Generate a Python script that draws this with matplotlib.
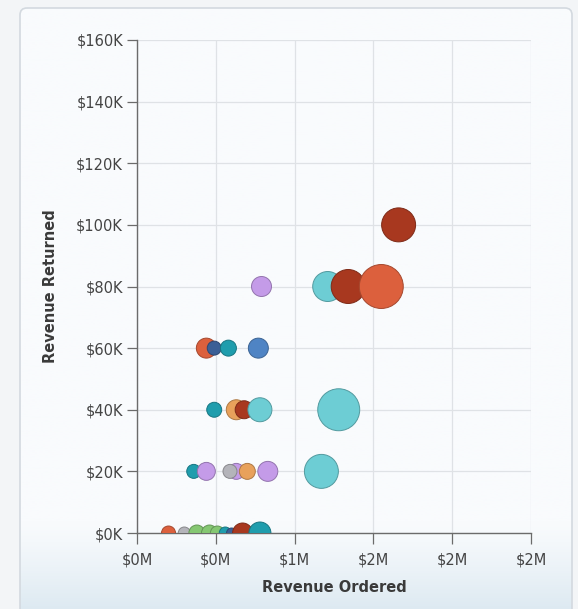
import numpy as np
import matplotlib
import matplotlib.pyplot as plt
from matplotlib.patches import FancyBboxPatch
from matplotlib.ticker import FuncFormatter, MultipleLocator

matplotlib.use("Agg")
plt.rcParams["font.family"] = ["DejaVu Sans"]

# revenue ordered ($), revenue returned ($), bubble size (units), colour group
revenue_ordered = [
    200000, 300000, 380000, 460000, 510000, 560000, 600000, 670000, 780000,
    360000, 440000, 630000, 590000, 700000, 830000, 1170000,
    490000, 630000, 680000, 780000, 1280000,
    440000, 490000, 580000, 770000,
    790000, 1210000, 1340000, 1550000,
    1660000,
]
revenue_returned = [
    0, 0, 0, 0, 0, 0, 0, 0, 0,
    20000, 20000, 20000, 20000, 20000, 20000, 20000,
    40000, 40000, 40000, 40000, 40000,
    60000, 60000, 60000, 60000,
    80000, 80000, 80000, 80000,
    100000,
]
units = [
    49, 36, 64, 64, 49, 36, 25, 100, 121,
    49, 81, 64, 49, 64, 100, 289,
    56, 100, 81, 144, 441,
    100, 49, 64, 100,
    100, 225, 289, 484,
    289,
]
groups = [
    "salmon", "gray", "green", "green", "green", "teal", "navy", "darkred", "teal",
    "teal", "purple", "purple", "gray", "orange", "purple", "cyan",
    "teal", "orange", "darkred", "cyan", "cyan",
    "salmon", "navy", "teal", "blue",
    "purple", "cyan", "darkred", "salmon",
    "darkred",
]
palette = {
    "darkred": "#a8381f",
    "salmon": "#dc603d",
    "cyan": "#6dcdd4",
    "teal": "#1f9dad",
    "purple": "#c49be8",
    "blue": "#4f84c4",
    "navy": "#3b5f96",
    "orange": "#e8a15b",
    "gray": "#b4b4ba",
    "green": "#85c772",
}


def darker(hex_color, f=0.75):
    rgb = np.array(matplotlib.colors.to_rgb(hex_color))
    return tuple(rgb * f)


fig = plt.figure(figsize=(5.78, 6.09), dpi=100)
fig.patch.set_facecolor("#f3f5f7")

# panel background
bg = fig.add_axes([0, 0, 1, 1])
bg.set_xlim(0, 578)
bg.set_ylim(609, 0)
bg.axis("off")
panel = FancyBboxPatch((20, 8), 552, 612, boxstyle="round,pad=0,rounding_size=7",
                       fc="none", ec="#d3d9df", lw=1.2, zorder=3)
bg.add_patch(panel)
t = np.linspace(0, 1, 300)
top = np.array(matplotlib.colors.to_rgb("#f9fbfd"))
bottom = np.array(matplotlib.colors.to_rgb("#d9e7f0"))
w = np.clip((t - 0.84) / 0.16, 0, 1) ** 1.2
grad = top[None, :] * (1 - w[:, None]) + bottom[None, :] * w[:, None]
im = bg.imshow(grad[:, None, :], extent=(20, 572, 620, 8), aspect="auto", zorder=1)
im.set_clip_path(panel)

ax = fig.add_axes([137 / 578, 1 - 533 / 609, 394 / 578, 493 / 609])
ax.set_facecolor("none")

sizes = [u * 2.07 for u in units]
cols = [palette[g] for g in groups]
edges = [darker(c) for c in cols]
ax.scatter(revenue_ordered, revenue_returned, s=sizes, c=cols, edgecolors=edges,
           linewidths=0.7, zorder=3)

ax.set_xlim(0, 2500000)
ax.set_ylim(0, 160000)
ax.xaxis.set_major_locator(MultipleLocator(500000))
ax.yaxis.set_major_locator(MultipleLocator(20000))
ax.xaxis.set_major_formatter(FuncFormatter(lambda v, p: f"${v / 1e6:.0f}M"))
ax.yaxis.set_major_formatter(FuncFormatter(lambda v, p: f"${v / 1e3:.0f}K"))

ax.grid(True, color="#dfe2e6", lw=0.9, zorder=0)
for s in ["top", "right"]:
    ax.spines[s].set_visible(False)
for s in ["left", "bottom"]:
    ax.spines[s].set_color("#6b6b6b")
    ax.spines[s].set_linewidth(1)
    ax.spines[s].set_zorder(2)
ax.tick_params(axis="x", direction="out", length=8, width=0.9, color="#6b6b6b",
               labelsize=10.5, labelcolor="#444444", pad=6)
ax.tick_params(axis="y", direction="out", length=7, width=0.9, color="#6b6b6b",
               labelsize=10.5, labelcolor="#444444", pad=3)

ax.set_xlabel("Revenue Ordered", fontsize=10.5, fontweight="bold", color="#3a3a3a",
              labelpad=9)
ax.set_ylabel("Revenue Returned", fontsize=10.5, fontweight="bold", color="#3a3a3a",
              labelpad=13)

fig.savefig("out.png", dpi=100)
